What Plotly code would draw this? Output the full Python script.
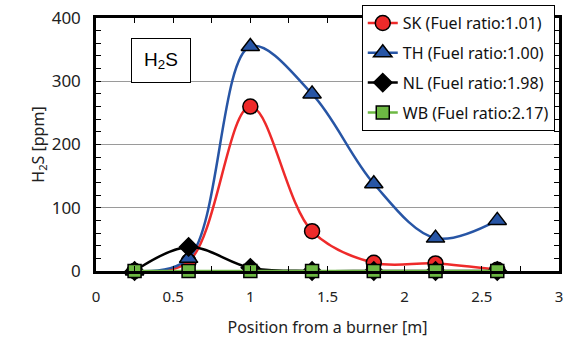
import plotly.graph_objects as go

positions = [0.25, 0.6, 1.0, 1.4, 1.8, 2.2, 2.6]
sk = [0, 15, 260, 63, 13, 12, 2]
th = [0, 20, 355, 280, 138, 52, 80]
nl = [0, 38, 5, 0, 0, 0, 0]
wb = [0, 0, 0, 0, 0, 0, 0]

series = [
    ("SK (Fuel ratio:1.01)", sk, "#EE2A2A", "circle", 15),
    ("TH (Fuel ratio:1.00)", th, "#2755A5", "triangle-up", 16),
    ("NL (Fuel ratio:1.98)", nl, "#000000", "diamond", 14),
    ("WB (Fuel ratio:2.17)", wb, "#6DB843", "square", 13),
]

FONT = "Noto Sans"
fig = go.Figure()
for i, (name, vals, col, sym, sz) in enumerate(series):
    fig.add_trace(go.Scatter(
        x=positions, y=vals, name=name, mode="lines+markers",
        line=dict(color=col, width=2.5, shape="spline", smoothing=1.0),
        marker=dict(symbol=sym, size=sz, color=col, line=dict(color="black", width=1.5)),
        cliponaxis=False, legendgroup=f"g{i}",
    ))

fig.update_layout(
    width=580, height=344,
    margin=dict(l=96, r=21, t=18, b=73, autoexpand=False),
    paper_bgcolor="white", plot_bgcolor="white",
    font=dict(family=FONT, size=16, color="#222"),
    showlegend=True,
    legend=dict(x=0.574, y=1.051, xanchor="left", yanchor="top",
                bgcolor="white", bordercolor="black", borderwidth=1,
                font=dict(family=FONT, size=16, color="#111"),
                tracegroupgap=6, itemwidth=30),
    xaxis=dict(range=[0, 3], dtick=0.5, tick0=0, showgrid=False, zeroline=False,
               showline=True, linecolor="black", linewidth=2.5, mirror="ticks",
               ticks="inside", ticklen=5, tickcolor="black", automargin=False,
               ticklabelstandoff=10,
               minor=dict(dtick=0.25, ticks="inside", ticklen=5, tickcolor="black"),
               title=dict(text="Position from a burner [m]", font=dict(size=16), standoff=18),
               tickfont=dict(size=15)),
    yaxis=dict(range=[0, 400], dtick=100, showgrid=True, gridcolor="#9a9a9a", gridwidth=1,
               zeroline=False, showline=True, linecolor="black", linewidth=2.5, mirror="ticks",
               ticks="inside", ticklen=5, tickcolor="black", automargin=False,
               ticklabelstandoff=9,
               minor=dict(dtick=20, ticks="inside", ticklen=5, tickcolor="black", showgrid=False),
               title=dict(text="H<sub>2</sub>S [ppm]", font=dict(size=16), standoff=4),
               tickfont=dict(size=17)),
    annotations=[dict(x=0.418, y=333, xref="x", yref="y", text="H<sub>2</sub>S",
                      showarrow=False, font=dict(family="Liberation Sans", size=19, color="black"),
                      bordercolor="black", borderwidth=1, bgcolor="white",
                      width=56, height=41)],
)

fig.write_html("out.html", config={"displayModeBar": False},
               post_script="document.body.style.margin='0px';")
